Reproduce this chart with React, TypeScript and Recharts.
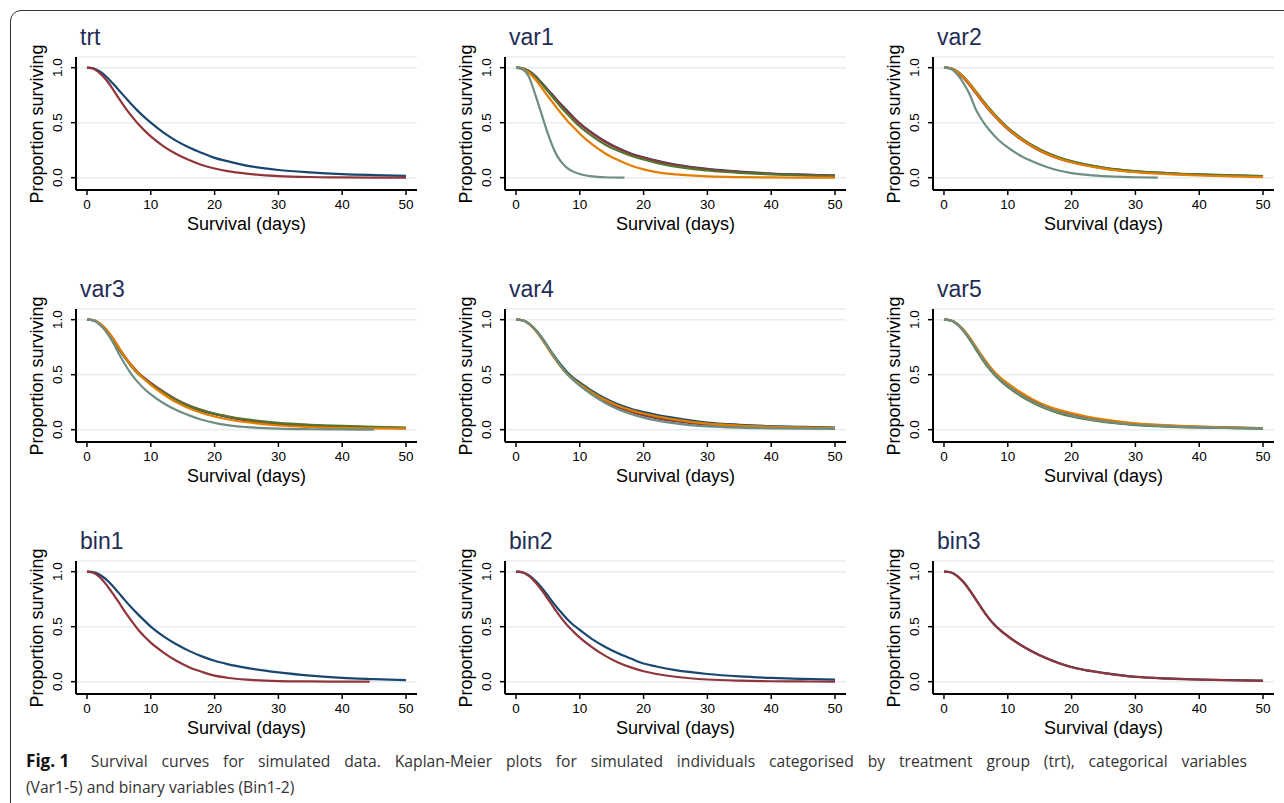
import React from "react"
import { CartesianGrid, Line, LineChart, XAxis, YAxis } from "recharts"

// follow-up days shared by most curves
const days = [0, 1, 2, 3, 4, 5, 6, 7, 8, 9, 10, 12, 14, 16, 18, 20, 22, 25, 30, 35, 40, 45, 50]
const xTicks = [0, 10, 20, 30, 40, 50]
const yTicks = [0, 0.5, 1]

const NAVY = "#1a476f"
const MAROON = "#90353b"
const GREEN = "#55752f"
const ORANGE = "#e37e00"
const TEAL = "#6e8e84"

// trt
const trtNavy = [1, 0.995, 0.965, 0.92, 0.86, 0.795, 0.73, 0.665, 0.605, 0.55, 0.5, 0.41, 0.335, 0.275, 0.225, 0.18, 0.15, 0.11, 0.07, 0.048, 0.033, 0.024, 0.017]
const trtMaroon = [1, 0.99, 0.95, 0.89, 0.81, 0.72, 0.635, 0.56, 0.49, 0.43, 0.375, 0.285, 0.215, 0.16, 0.115, 0.083, 0.06, 0.037, 0.015, 0.006, 0.003, 0.001, 0]

// var1
const var1Navy = [1, 0.995, 0.97, 0.925, 0.865, 0.8, 0.735, 0.67, 0.61, 0.55, 0.495, 0.405, 0.33, 0.27, 0.22, 0.185, 0.155, 0.12, 0.08, 0.055, 0.038, 0.028, 0.02]
const var1Maroon = [1, 0.995, 0.97, 0.925, 0.86, 0.795, 0.73, 0.665, 0.6, 0.545, 0.49, 0.4, 0.325, 0.265, 0.215, 0.18, 0.15, 0.115, 0.075, 0.05, 0.035, 0.026, 0.02]
const var1Green = [1, 0.995, 0.965, 0.92, 0.855, 0.785, 0.715, 0.645, 0.58, 0.52, 0.465, 0.375, 0.3, 0.245, 0.2, 0.165, 0.135, 0.1, 0.065, 0.043, 0.03, 0.02, 0.013]
const var1Orange = [1, 0.99, 0.955, 0.895, 0.82, 0.74, 0.665, 0.59, 0.52, 0.46, 0.4, 0.3, 0.22, 0.16, 0.11, 0.075, 0.05, 0.03, 0.012, 0.005, 0.002, 0.001, 0]
const var1TealDays = [0, 1, 2, 3, 4, 5, 6, 7, 8, 9, 10, 11, 12, 14, 17]
const var1Teal = [1, 0.985, 0.92, 0.76, 0.58, 0.4, 0.25, 0.15, 0.09, 0.055, 0.033, 0.02, 0.012, 0.004, 0]

// var2
const var2Navy = [1, 0.995, 0.965, 0.915, 0.85, 0.775, 0.7, 0.63, 0.565, 0.505, 0.45, 0.36, 0.285, 0.225, 0.18, 0.145, 0.12, 0.09, 0.058, 0.04, 0.028, 0.02, 0.014]
const var2Maroon = [1, 0.995, 0.963, 0.91, 0.843, 0.768, 0.692, 0.62, 0.555, 0.495, 0.44, 0.35, 0.277, 0.218, 0.173, 0.14, 0.115, 0.085, 0.055, 0.037, 0.026, 0.018, 0.012]
const var2Green = [1, 0.996, 0.97, 0.922, 0.858, 0.785, 0.71, 0.638, 0.572, 0.51, 0.455, 0.365, 0.29, 0.23, 0.185, 0.15, 0.123, 0.092, 0.06, 0.042, 0.03, 0.022, 0.015]
const var2Orange = [1, 0.995, 0.966, 0.917, 0.852, 0.776, 0.7, 0.628, 0.562, 0.5, 0.447, 0.355, 0.28, 0.22, 0.175, 0.14, 0.113, 0.082, 0.05, 0.032, 0.02, 0.011, 0.005]
const var2TealDays = [0, 1, 2, 3, 4, 5, 6, 7, 8, 9, 10, 12, 14, 16, 18, 20, 22, 25, 30, 33.5]
const var2Teal = [1, 0.99, 0.945, 0.865, 0.76, 0.62, 0.52, 0.44, 0.375, 0.32, 0.275, 0.2, 0.145, 0.1, 0.065, 0.042, 0.027, 0.014, 0.004, 0]

// var3
const var3Navy = [1, 0.995, 0.962, 0.905, 0.83, 0.735, 0.65, 0.575, 0.51, 0.46, 0.415, 0.335, 0.265, 0.21, 0.17, 0.14, 0.115, 0.085, 0.052, 0.036, 0.026, 0.02, 0.015]
const var3Maroon = [1, 0.995, 0.965, 0.91, 0.835, 0.745, 0.66, 0.585, 0.52, 0.47, 0.425, 0.345, 0.275, 0.22, 0.178, 0.145, 0.118, 0.087, 0.055, 0.038, 0.027, 0.02, 0.015]
const var3Green = [1, 0.995, 0.962, 0.905, 0.83, 0.738, 0.652, 0.577, 0.512, 0.462, 0.417, 0.338, 0.27, 0.217, 0.177, 0.146, 0.122, 0.093, 0.062, 0.045, 0.034, 0.026, 0.02]
const var3Orange = [1, 0.996, 0.966, 0.912, 0.838, 0.745, 0.658, 0.58, 0.512, 0.458, 0.408, 0.322, 0.25, 0.195, 0.152, 0.12, 0.095, 0.068, 0.038, 0.024, 0.016, 0.012, 0.009]
const var3TealDays = [0, 1, 2, 3, 4, 5, 6, 7, 8, 9, 10, 12, 14, 16, 18, 20, 22, 25, 30, 35, 40, 45]
const var3Teal = [1, 0.993, 0.955, 0.89, 0.8, 0.69, 0.59, 0.5, 0.43, 0.37, 0.32, 0.24, 0.178, 0.13, 0.09, 0.062, 0.042, 0.024, 0.009, 0.004, 0.002, 0]

// var4
const var4Navy = [1, 0.995, 0.966, 0.912, 0.84, 0.755, 0.67, 0.592, 0.525, 0.472, 0.43, 0.35, 0.283, 0.23, 0.19, 0.16, 0.135, 0.105, 0.065, 0.045, 0.032, 0.025, 0.02]
const var4Maroon = [1, 0.995, 0.964, 0.908, 0.833, 0.745, 0.658, 0.578, 0.51, 0.457, 0.41, 0.328, 0.26, 0.205, 0.163, 0.13, 0.105, 0.077, 0.045, 0.03, 0.022, 0.017, 0.013]
const var4Green = [1, 0.995, 0.965, 0.91, 0.837, 0.75, 0.664, 0.585, 0.518, 0.465, 0.42, 0.34, 0.272, 0.218, 0.177, 0.145, 0.12, 0.09, 0.055, 0.038, 0.028, 0.021, 0.016]
const var4Orange = [1, 0.995, 0.963, 0.905, 0.828, 0.74, 0.652, 0.573, 0.506, 0.455, 0.412, 0.335, 0.27, 0.218, 0.178, 0.147, 0.122, 0.092, 0.055, 0.037, 0.026, 0.019, 0.014]
const var4Teal = [1, 0.995, 0.966, 0.912, 0.838, 0.75, 0.662, 0.58, 0.507, 0.45, 0.4, 0.315, 0.243, 0.186, 0.142, 0.11, 0.085, 0.058, 0.03, 0.018, 0.012, 0.009, 0.008]

// var5
const var5Navy = [1, 0.995, 0.965, 0.908, 0.832, 0.745, 0.657, 0.577, 0.508, 0.452, 0.405, 0.325, 0.26, 0.208, 0.17, 0.14, 0.115, 0.086, 0.053, 0.036, 0.026, 0.019, 0.013]
const var5Maroon = [1, 0.995, 0.964, 0.906, 0.83, 0.742, 0.653, 0.572, 0.503, 0.447, 0.4, 0.318, 0.252, 0.2, 0.16, 0.13, 0.106, 0.078, 0.046, 0.031, 0.022, 0.016, 0.011]
const var5Green = [1, 0.994, 0.961, 0.9, 0.82, 0.73, 0.64, 0.56, 0.492, 0.437, 0.39, 0.308, 0.242, 0.19, 0.15, 0.12, 0.097, 0.07, 0.042, 0.028, 0.02, 0.015, 0.011]
const var5Orange = [1, 0.995, 0.967, 0.912, 0.84, 0.755, 0.668, 0.588, 0.52, 0.465, 0.42, 0.34, 0.273, 0.22, 0.18, 0.15, 0.124, 0.093, 0.058, 0.04, 0.029, 0.021, 0.014]
const var5Teal = [1, 0.995, 0.963, 0.905, 0.828, 0.74, 0.65, 0.57, 0.5, 0.445, 0.398, 0.316, 0.25, 0.198, 0.158, 0.128, 0.104, 0.076, 0.045, 0.03, 0.021, 0.016, 0.012]

// bin1..bin3
const bin1Navy = [1, 0.996, 0.972, 0.93, 0.872, 0.805, 0.737, 0.672, 0.612, 0.555, 0.5, 0.412, 0.34, 0.28, 0.23, 0.19, 0.16, 0.125, 0.084, 0.055, 0.035, 0.024, 0.015]
const bin1MaroonDays = [0, 1, 2, 3, 4, 5, 6, 7, 8, 9, 10, 12, 14, 16, 18, 20, 22, 25, 30, 35, 40, 44.3]
const bin1Maroon = [1, 0.99, 0.95, 0.885, 0.805, 0.72, 0.632, 0.55, 0.475, 0.41, 0.355, 0.265, 0.19, 0.132, 0.09, 0.055, 0.036, 0.018, 0.005, 0.002, 0.001, 0]
const bin2Navy = [1, 0.995, 0.968, 0.92, 0.857, 0.782, 0.705, 0.635, 0.57, 0.515, 0.47, 0.385, 0.315, 0.258, 0.21, 0.165, 0.138, 0.105, 0.07, 0.048, 0.034, 0.025, 0.018]
const bin2Maroon = [1, 0.994, 0.962, 0.907, 0.835, 0.752, 0.667, 0.587, 0.515, 0.455, 0.4, 0.31, 0.235, 0.175, 0.13, 0.095, 0.07, 0.045, 0.02, 0.009, 0.004, 0.002, 0]
const bin3Navy = [1, 0.995, 0.965, 0.91, 0.835, 0.748, 0.66, 0.58, 0.512, 0.46, 0.415, 0.335, 0.27, 0.215, 0.17, 0.133, 0.108, 0.08, 0.045, 0.03, 0.02, 0.014, 0.009]
const bin3Maroon = [1, 0.995, 0.964, 0.908, 0.833, 0.746, 0.658, 0.578, 0.51, 0.458, 0.413, 0.333, 0.268, 0.213, 0.168, 0.131, 0.106, 0.078, 0.043, 0.028, 0.019, 0.013, 0.008]

type Series = { t: number[]; s: number[]; color: string }
const ser = (s: number[], color: string, t: number[] = days): Series => ({ t, s, color })

const panels: { title: string; series: Series[] }[] = [
  { title: "trt", series: [ser(trtNavy, NAVY), ser(trtMaroon, MAROON)] },
  {
    title: "var1",
    series: [ser(var1Navy, NAVY), ser(var1Maroon, MAROON), ser(var1Green, GREEN), ser(var1Orange, ORANGE), ser(var1Teal, TEAL, var1TealDays)],
  },
  {
    title: "var2",
    series: [ser(var2Navy, NAVY), ser(var2Maroon, MAROON), ser(var2Green, GREEN), ser(var2Orange, ORANGE), ser(var2Teal, TEAL, var2TealDays)],
  },
  {
    title: "var3",
    series: [ser(var3Navy, NAVY), ser(var3Maroon, MAROON), ser(var3Green, GREEN), ser(var3Orange, ORANGE), ser(var3Teal, TEAL, var3TealDays)],
  },
  {
    title: "var4",
    series: [ser(var4Navy, NAVY), ser(var4Maroon, MAROON), ser(var4Green, GREEN), ser(var4Orange, ORANGE), ser(var4Teal, TEAL)],
  },
  {
    title: "var5",
    series: [ser(var5Navy, NAVY), ser(var5Maroon, MAROON), ser(var5Green, GREEN), ser(var5Orange, ORANGE), ser(var5Teal, TEAL)],
  },
  { title: "bin1", series: [ser(bin1Navy, NAVY), ser(bin1Maroon, MAROON, bin1MaroonDays)] },
  { title: "bin2", series: [ser(bin2Navy, NAVY), ser(bin2Maroon, MAROON)] },
  { title: "bin3", series: [ser(bin3Navy, NAVY), ser(bin3Maroon, MAROON)] },
]

const AXIS_FONT = "'Liberation Sans', Arial, sans-serif"
const colLeft = [76, 505, 933]
const rowTop = [57, 309, 561]
const PLOT_W = 341
const PLOT_H = 133
const Y_W = 60
const X_H = 40
const M_TOP = 10
const CAPTION_SCALE = 0.95

const YTick = (props: any) => {
  const { x, y, payload } = props
  const cx = x - 7
  return (
    <text x={cx} y={y} transform={`rotate(-90, ${cx}, ${y})`} textAnchor="middle" fontSize={13.5} fill="#000" fontFamily={AXIS_FONT}>
      {Number(payload.value).toFixed(1)}
    </text>
  )
}

function Panel({ title, series, left, top }: { title: string; series: Series[]; left: number; top: number }) {
  return (
    <>
      <div style={{ position: "absolute", left: left + 4, top: top - 33, fontSize: 23, lineHeight: "26px", color: "#1f2d56", fontFamily: AXIS_FONT }}>
        {title}
      </div>
      <div
        style={{
          position: "absolute",
          left: left - 39,
          top: top + PLOT_H / 2,
          transform: "translate(-50%, -50%) rotate(-90deg)",
          fontSize: 18,
          whiteSpace: "nowrap",
          fontFamily: AXIS_FONT,
          color: "#000",
        }}
      >
        Proportion surviving
      </div>
      <div
        style={{
          position: "absolute",
          left: left + PLOT_W / 2,
          top: top + PLOT_H + 34,
          transform: "translate(-50%, -50%)",
          fontSize: 18,
          whiteSpace: "nowrap",
          fontFamily: AXIS_FONT,
          color: "#000",
        }}
      >
        Survival (days)
      </div>
      <div style={{ position: "absolute", left: left - Y_W, top: top - M_TOP }}>
        <LineChart width={Y_W + PLOT_W + 5} height={M_TOP + PLOT_H + X_H} margin={{ top: M_TOP, right: 5, bottom: 0, left: 0 }}>
          <CartesianGrid vertical={false} stroke="#e6eef2" strokeWidth={1.5} />
          <XAxis
            type="number"
            dataKey="t"
            domain={[-1.72, 51.72]}
            ticks={xTicks}
            allowDataOverflow
            height={X_H}
            tickSize={5}
            tickMargin={4}
            axisLine={{ stroke: "#000", strokeWidth: 2 }}
            tickLine={{ stroke: "#000", strokeWidth: 1.5 }}
            tick={{ fontSize: 13.5, fill: "#000", fontFamily: AXIS_FONT }}
          />
          <YAxis
            type="number"
            domain={[-0.112, 1.097]}
            ticks={yTicks}
            allowDataOverflow
            width={Y_W}
            tickSize={5}
            axisLine={{ stroke: "#000", strokeWidth: 2 }}
            tickLine={{ stroke: "#000", strokeWidth: 1.5 }}
            tick={<YTick />}
          />
          {series.map((sr, i) => (
            <Line
              key={i}
              data={sr.t.map((t, j) => ({ t, s: sr.s[j] }))}
              dataKey="s"
              type="monotone"
              stroke={sr.color}
              strokeWidth={2.2}
              dot={false}
              isAnimationActive={false}
            />
          ))}
        </LineChart>
      </div>
    </>
  )
}

export default function App() {
  return (
    <div style={{ position: "absolute", left: 0, top: 0, width: 1284, height: 803, background: "#fff", overflow: "hidden" }}>
      <div
        style={{
          position: "absolute",
          left: 10,
          top: 10,
          width: 1320,
          height: 840,
          border: "1px solid #333",
          borderRadius: 11,
        }}
      />
      {panels.map((p, i) => (
        <Panel key={p.title} title={p.title} series={p.series} left={colLeft[i % 3]} top={rowTop[Math.floor(i / 3)]} />
      ))}
      <div
        style={{
          position: "absolute",
          left: 26,
          top: 747,
          width: 1221 / CAPTION_SCALE,
          transform: `scaleX(${CAPTION_SCALE})`,
          transformOrigin: "0 0",
          fontFamily: "'Open Sans', 'Noto Sans', sans-serif",
          fontSize: 16.5,
          lineHeight: "26px",
          color: "#333",
          whiteSpace: "nowrap",
        }}
      >
        <div style={{ textAlign: "justify", textAlignLast: "justify" }}>
          <b style={{ display: "inline-block", color: "#111", fontSize: 18, marginRight: 8 }}>Fig. 1</b> Survival curves for simulated data. Kaplan-Meier
          plots for simulated individuals categorised by treatment group (trt), categorical variables
        </div>
        <div>(Var1-5) and binary variables (Bin1-2)</div>
      </div>
    </div>
  )
}
